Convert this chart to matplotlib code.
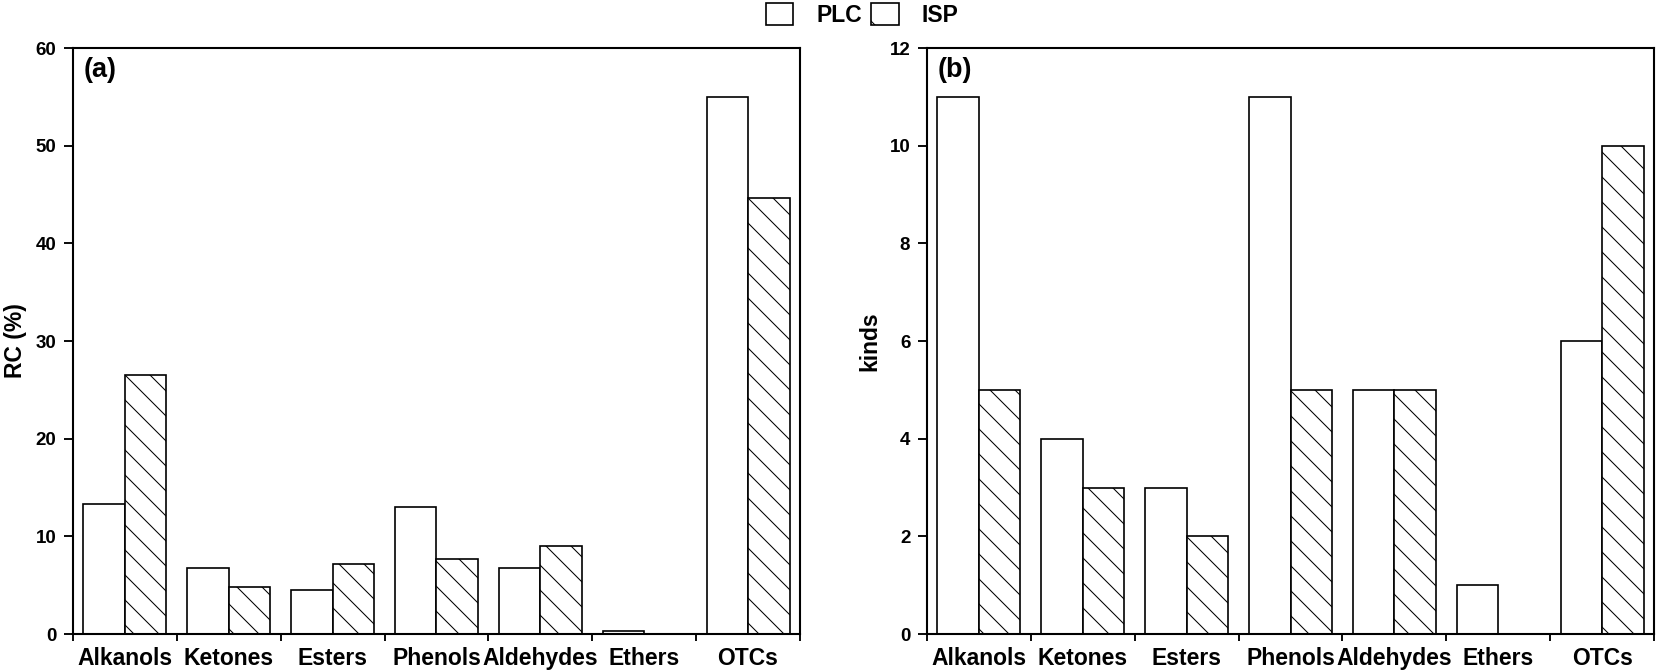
import matplotlib.pyplot as plt
from matplotlib.patches import Patch
import numpy as np

plt.rcParams['font.family'] = ['Liberation Sans', 'DejaVu Sans']
plt.rcParams['font.weight'] = 'bold'
plt.rcParams['hatch.linewidth'] = 0.5

categories = ['Alkanols', 'Ketones', 'Esters', 'Phenols', 'Aldehydes', 'Ethers', 'OTCs']
rc_plc = [13.3, 6.8, 4.55, 13.0, 6.8, 0.3, 55.0]
rc_isp = [26.5, 4.85, 7.2, 7.65, 9.05, 0.0, 44.6]
kinds_plc = [11, 4, 3, 11, 5, 1, 6]
kinds_isp = [5, 3, 2, 5, 5, 0, 10]

panels = [
    ('(a)', 'RC (%)', rc_plc, rc_isp, 60, 10),
    ('(b)', 'kinds', kinds_plc, kinds_isp, 12, 2),
]

fig = plt.figure(figsize=(1658 / 150, 670 / 150), dpi=150)
rects = [[0.044, 0.0537, 0.4385, 0.8746], [0.5591, 0.0537, 0.4385, 0.8746]]

x = np.arange(len(categories))
w = 0.4
for rect, (tag, ylab, plc, isp, ymax, step) in zip(rects, panels):
    ax = fig.add_axes(rect)
    ax.bar(x - w / 2, plc, width=w, facecolor='white', edgecolor='black', linewidth=0.8)
    ax.bar(x + w / 2, isp, width=w, facecolor='white', edgecolor='black', linewidth=0.8, hatch='\\\\')
    ax.set_xlim(-0.5, len(categories) - 0.5)
    ax.set_ylim(0, ymax)
    ax.set_yticks(np.arange(0, ymax + step / 2, step))
    ax.set_xticks(x)
    ax.set_xticklabels(categories, fontsize=11, fontweight='bold')
    ax.set_xticks(np.arange(-0.5, len(categories), 1), minor=True)
    ax.tick_params(axis='x', which='major', length=0, pad=6)
    ax.tick_params(axis='x', which='minor', length=3.5, width=0.9, direction='out')
    ax.tick_params(axis='y', length=4.5, width=0.9, direction='out', labelsize=9)
    for lbl in ax.get_yticklabels():
        lbl.set_fontweight('bold')
    for sp in ax.spines.values():
        sp.set_linewidth(1.0)
    ax.set_ylabel(ylab, fontsize=11, fontweight='bold', labelpad=4)
    ax.text(0.014, 0.985, tag, transform=ax.transAxes, ha='left', va='top',
            fontsize=13, fontweight='bold')

handles = [Patch(facecolor='white', edgecolor='black', linewidth=0.8, label='PLC'),
           Patch(facecolor='white', edgecolor='black', linewidth=0.8, hatch='\\', label='ISP')]
fig.legend(handles=handles, loc='center', bbox_to_anchor=(0.52, 0.978), ncol=2, frameon=False,
           prop={'size': 11, 'weight': 'bold'}, handlelength=1.2, handleheight=1.1,
           columnspacing=0.4, handletextpad=1.0, borderpad=0.1)

fig.savefig('out.png', dpi=150)
